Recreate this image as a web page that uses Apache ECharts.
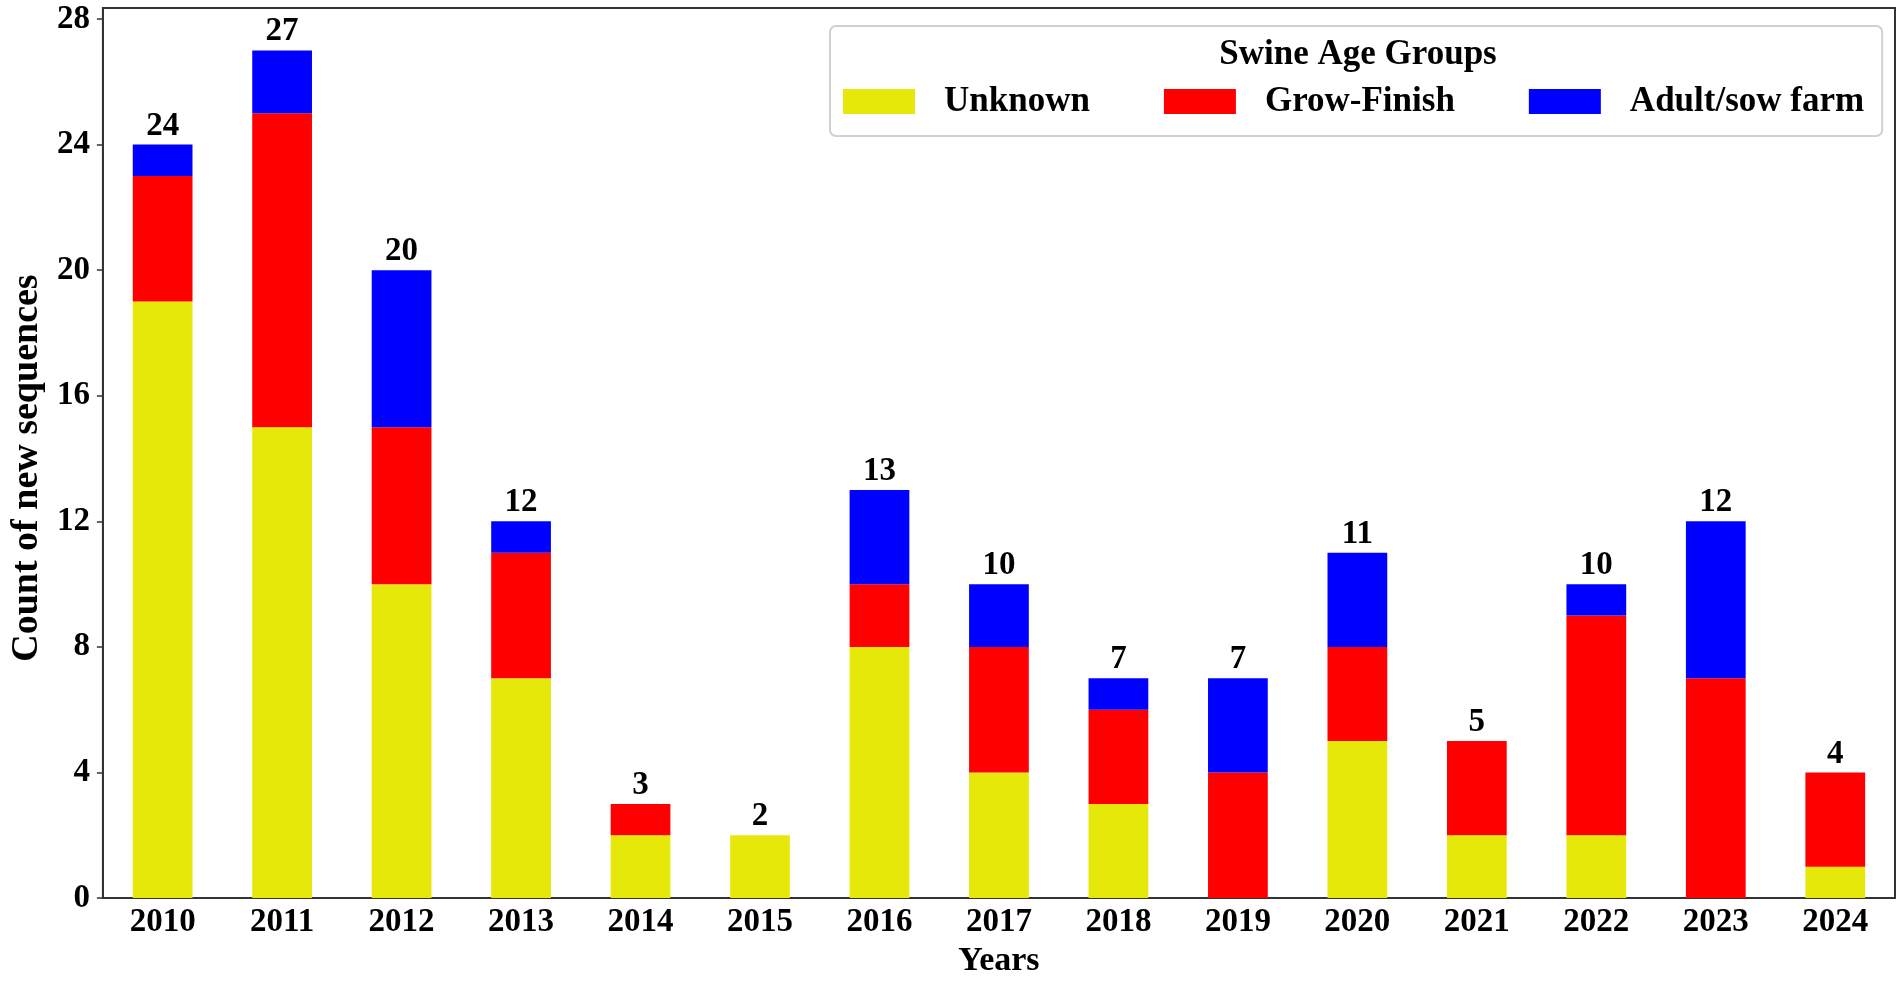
<!DOCTYPE html>
<html>
<head>
<meta charset="utf-8">
<title>Swine Age Groups</title>
<script src="https://cdn.jsdelivr.net/npm/echarts@6/dist/echarts.min.js"></script>
<style>
    html, body { margin: 0; padding: 0; background: #fff; }
    #chart { width: 1902px; height: 983px; }
</style>
</head>
<body>
<div id="chart"></div>
<script>
// data
var years = ['2010', '2011', '2012', '2013', '2014', '2015', '2016', '2017', '2018', '2019', '2020', '2021', '2022', '2023', '2024'];
var unknown = [19, 15, 10, 7, 2, 2, 8, 4, 3, 0, 5, 2, 2, 0, 1];
var growFinish = [4, 10, 5, 4, 1, 0, 2, 4, 3, 4, 3, 3, 7, 7, 3];
var adultSow = [1, 2, 5, 1, 0, 0, 3, 2, 1, 3, 3, 0, 1, 5, 0];
var yTicks = [0, 4, 8, 12, 16, 20, 24, 28];

var seriesNames = ['Unknown', 'Grow-Finish', 'Adult/sow farm'];
var colors = ['#e6e80a', '#ff0000', '#0000ff'];

// totals for the labels on top of each stack
var totals = [];
for (var i = 0; i < years.length; i++) {
    totals.push(unknown[i] + growFinish[i] + adultSow[i]);
}
var zeros = years.map(function () { return 0; });

var font = 'Liberation Serif';

var chart = echarts.init(document.getElementById('chart'));

function barSeries(name, data, color) {
    return {
        name: name,
        type: 'bar',
        stack: 'total',
        barWidth: '50%',
        data: data,
        itemStyle: { color: color },
        emphasis: { disabled: true }
    };
}

var option = {
    animation: false,
    title: {
        text: 'Swine Age Groups',
        left: 1353,
        top: 32,
        textAlign: 'center',
        textStyle: { fontFamily: font, fontWeight: 'bold', fontSize: 35, color: '#000' }
    },
    legend: {
        data: seriesNames,
        left: 830,
        top: 26,
        padding: [58, 18, 17, 13],
        borderColor: '#d0d0d0',
        borderWidth: 2,
        borderRadius: 6,
        itemWidth: 72,
        itemHeight: 25,
        itemGap: 74,
        icon: 'rect',
        selectedMode: false,
        textStyle: {
            fontFamily: font, fontWeight: 'bold', fontSize: 35, color: '#000',
            padding: [0, 0, 0, 24]
        }
    },
    grid: {
        left: 93,
        right: 7,
        top: 8,
        bottom: 80,
        show: true,
        borderColor: '#333',
        borderWidth: 2,
        containLabel: false
    },
    xAxis: {
        type: 'category',
        data: years,
        name: 'Years',
        nameLocation: 'middle',
        nameGap: 43,
        nameTextStyle: { fontFamily: font, fontWeight: 'bold', fontSize: 34, color: '#000' },
        axisLine: { lineStyle: { color: '#333', width: 2 } },
        axisTick: { alignWithLabel: true, length: 6, lineStyle: { color: '#333', width: 1.5 } },
        axisLabel: { fontFamily: font, fontWeight: 'bold', fontSize: 33, color: '#000', margin: 8 },
        splitLine: { show: false }
    },
    yAxis: {
        type: 'value',
        min: 0,
        max: 28.35,
        name: 'Count of new sequences',
        nameLocation: 'middle',
        nameGap: 52,
        nameTextStyle: {
            fontFamily: font, fontWeight: 'bold', fontSize: 38, color: '#000',
            padding: [0, 30, 0, 0]
        },
        axisLine: { show: true, lineStyle: { color: '#333', width: 2 } },
        axisTick: { show: true, length: 6, customValues: yTicks, lineStyle: { color: '#333', width: 1.5 } },
        axisLabel: { fontFamily: font, fontWeight: 'bold', fontSize: 33, color: '#000', margin: 13, customValues: yTicks },
        splitLine: { show: false }
    },
    series: [
        barSeries(seriesNames[0], unknown, colors[0]),
        barSeries(seriesNames[1], growFinish, colors[1]),
        barSeries(seriesNames[2], adultSow, colors[2]),
        {
            // empty bar on top of the stack, only carries the total label
            name: 'total',
            type: 'bar',
            stack: 'total',
            barWidth: '50%',
            data: zeros,
            itemStyle: { color: 'transparent' },
            silent: true,
            label: {
                show: true,
                position: 'top',
                distance: 2,
                fontFamily: font,
                fontWeight: 'bold',
                fontSize: 33,
                color: '#000',
                formatter: function (p) { return totals[p.dataIndex]; }
            }
        }
    ]
};

chart.setOption(option);
</script>
</body>
</html>
